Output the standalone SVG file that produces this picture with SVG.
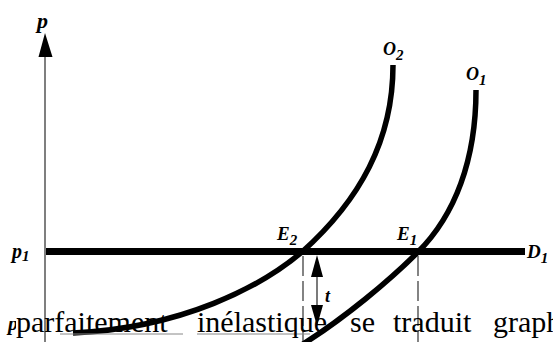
<svg xmlns="http://www.w3.org/2000/svg" width="553" height="342" viewBox="0 0 553 342">
<style>
.lbl{font-family:"Liberation Serif","Times New Roman",serif;font-style:italic;font-weight:bold;fill:#000}
.sub{font-size:15px}
.curve{fill:none;stroke:#000;stroke-width:5.5;stroke-linecap:butt}
.dash{stroke:#333;stroke-width:1.2;stroke-dasharray:20 5}
.body{font-family:"Liberation Serif","Times New Roman",serif;font-size:30px;fill:#000}
</style>
<defs>
<clipPath id="cutp"><rect x="0" y="321" width="16" height="21"/></clipPath>
</defs>
<rect width="553" height="342" fill="#fff"/>
<g id="axis">
<line x1="45" y1="56" x2="45" y2="342" stroke="#555" stroke-width="1.5"/>
<polygon points="45,33 38.5,57 52.5,57" fill="#000"/>
<text class="lbl" x="37" y="28" font-size="22">p</text>
</g>
<g id="connectors">
<line x1="303" y1="256" x2="303" y2="342" class="dash"/>
<line x1="418" y1="256" x2="418" y2="342" class="dash"/>
<line x1="317" y1="270" x2="317" y2="312" stroke="#333" stroke-width="1.3"/>
<polygon points="317,255 311,277 323,277" fill="#000"/>
<polygon points="317,326 311,305 323,305" fill="#000"/>
</g>
<g id="D1">
<line x1="46" y1="251.5" x2="525" y2="251.5" stroke="#000" stroke-width="7"/>
<text class="lbl" x="527" y="258" font-size="19">D<tspan class="sub" dy="5">1</tspan></text>
</g>
<g id="p1">
<text class="lbl" x="12" y="258" font-size="20">p<tspan class="sub" dy="3">1</tspan></text>
</g>
<g id="O2">
<path class="curve" d="M393,65 C393,140 360,200 302,252 C262,286 183,328 73,333"/>
<text class="lbl" x="383" y="55" font-size="18">O<tspan class="sub" dy="5">2</tspan></text>
</g>
<g id="O1">
<path class="curve" d="M476,90 C476,160 455,215 418,252 C390,280 345,318 300,346"/>
<text class="lbl" x="466" y="80" font-size="18">O<tspan class="sub" dy="5">1</tspan></text>
</g>
<g id="E2">
<text class="lbl" x="277" y="240" font-size="19">E<tspan class="sub" dy="5">2</tspan></text>
</g>
<g id="E1">
<text class="lbl" x="397" y="240" font-size="19">E<tspan class="sub" dy="5">1</tspan></text>
</g>
<g id="t">
<text class="lbl" x="325" y="302" font-size="18">t</text>
</g>
<g id="p2" clip-path="url(#cutp)">
<text class="lbl" x="8" y="330" font-size="20">p</text>
</g>
<g id="paragraph">
<line x1="60" y1="334" x2="183" y2="334" stroke="#888" stroke-width="1"/>
<line x1="197" y1="334" x2="310" y2="334" stroke="#888" stroke-width="1"/>
<text class="body" x="16" y="332">parfaitement</text>
<text class="body" x="197" y="332">inélastique</text>
<text class="body" x="350" y="332">se</text>
<text class="body" x="393" y="332">traduit</text>
<text class="body" x="493" y="332">graph</text>
</g>
</svg>
